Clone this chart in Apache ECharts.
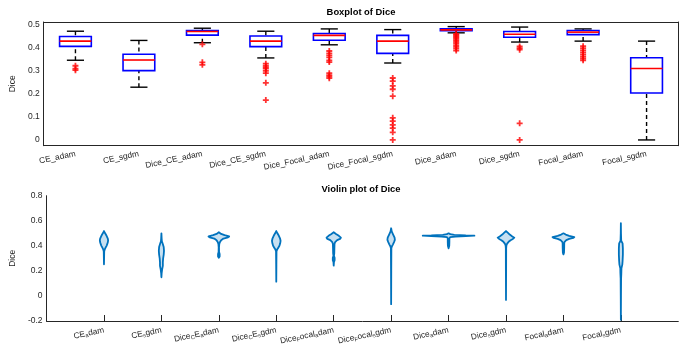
<!DOCTYPE html>
<html>
<head>
<meta charset="utf-8">
<script src="https://cdn.jsdelivr.net/npm/echarts@6/dist/echarts.min.js"></script>
<style>
  html, body { margin: 0; background: #fff; }
  #chart { width: 686px; height: 360px; }
</style>
</head>
<body>
<div id="chart"></div>
<script>
const categories = ['CE_adam', 'CE_sgdm', 'Dice_CE_adam', 'Dice_CE_sgdm', 'Dice_Focal_adam',
  'Dice_Focal_sgdm', 'Dice_adam', 'Dice_sgdm', 'Focal_adam', 'Focal_sgdm']

// [lower whisker, q1, median, q3, upper whisker]
const boxStats = [
  [0.346, 0.406, 0.429, 0.449, 0.472],
  [0.229, 0.301, 0.347, 0.372, 0.432],
  [0.422, 0.455, 0.471, 0.475, 0.485],
  [0.356, 0.405, 0.429, 0.451, 0.472],
  [0.413, 0.433, 0.454, 0.462, 0.482],
  [0.334, 0.376, 0.429, 0.454, 0.479],
  [0.465, 0.474, 0.478, 0.482, 0.492],
  [0.425, 0.446, 0.459, 0.471, 0.490],
  [0.429, 0.457, 0.468, 0.475, 0.482],
  [0.000, 0.204, 0.310, 0.357, 0.429],
]

const outliers = [
  [0.322, 0.310, 0.303],
  [],
  [0.415, 0.337, 0.326],
  [0.331, 0.322, 0.315, 0.310, 0.300, 0.290, 0.248, 0.173],
  [0.386, 0.376, 0.367, 0.358, 0.345, 0.338, 0.290, 0.281, 0.275, 0.268],
  [0.269, 0.255, 0.235, 0.220, 0.190, 0.096, 0.082, 0.065, 0.051, 0.033, 0.0],
  [0.460, 0.455, 0.450, 0.445, 0.440, 0.433, 0.427, 0.420, 0.412, 0.404, 0.396, 0.388],
  [0.406, 0.399, 0.392, 0.072, 0.0],
  [0.407, 0.398, 0.389, 0.380, 0.371, 0.362, 0.354, 0.346],
  [],
]

const boxTicks = [0, 0.1, 0.2, 0.3, 0.4, 0.5]
const violinTicks = [-0.2, 0, 0.2, 0.4, 0.6, 0.8]

// violin outlines: [value, half width as a fraction of one category slot]
const violinProfiles = [
  [[0.518, 0], [0.50, 0.02], [0.48, 0.045], [0.46, 0.065], [0.445, 0.072], [0.43, 0.068], [0.415, 0.058],
    [0.40, 0.045], [0.385, 0.028], [0.37, 0.012], [0.355, 0.004], [0.30, 0.002], [0.253, 0]],
  [[0.50, 0], [0.46, 0.004], [0.435, 0.008], [0.42, 0.02], [0.39, 0.04], [0.36, 0.045], [0.33, 0.04],
    [0.30, 0.03], [0.27, 0.025], [0.24, 0.025], [0.21, 0.012], [0.18, 0.004], [0.149, 0]],
  [[0.508, 0], [0.495, 0.04], [0.485, 0.10], [0.475, 0.18], [0.468, 0.16], [0.458, 0.08], [0.445, 0.04],
    [0.43, 0.02], [0.415, 0.008], [0.39, 0.003], [0.35, 0.004], [0.335, 0.014], [0.315, 0.014], [0.305, 0]],
  [[0.518, 0], [0.50, 0.02], [0.48, 0.045], [0.46, 0.065], [0.44, 0.075], [0.42, 0.068], [0.40, 0.055],
    [0.385, 0.035], [0.37, 0.015], [0.355, 0.004], [0.25, 0.002], [0.114, 0]],
  [[0.508, 0], [0.495, 0.04], [0.48, 0.09], [0.465, 0.125], [0.455, 0.11], [0.445, 0.06], [0.43, 0.025],
    [0.415, 0.014], [0.38, 0.012], [0.34, 0.01], [0.32, 0.004], [0.305, 0.016], [0.285, 0.016], [0.27, 0.004], [0.242, 0]],
  [[0.54, 0], [0.515, 0.01], [0.49, 0.035], [0.465, 0.06], [0.448, 0.065], [0.43, 0.05], [0.41, 0.03],
    [0.395, 0.012], [0.38, 0.004], [0.2, 0.002], [-0.066, 0]],
  [[0.50, 0], [0.493, 0.03], [0.488, 0.10], [0.483, 0.30], [0.481, 0.45], [0.478, 0.30], [0.474, 0.12],
    [0.469, 0.03], [0.46, 0.014], [0.43, 0.014], [0.40, 0.012], [0.38, 0]],
  [[0.518, 0], [0.505, 0.03], [0.49, 0.065], [0.475, 0.11], [0.465, 0.145], [0.455, 0.12], [0.445, 0.08],
    [0.432, 0.045], [0.418, 0.02], [0.40, 0.006], [0.38, 0.003], [0.2, 0.002], [-0.032, 0]],
  [[0.50, 0], [0.49, 0.04], [0.48, 0.10], [0.47, 0.19], [0.463, 0.17], [0.455, 0.10], [0.445, 0.05],
    [0.432, 0.02], [0.42, 0.014], [0.38, 0.013], [0.345, 0.01], [0.332, 0]],
  [[0.58, 0], [0.50, 0.002], [0.44, 0.006], [0.42, 0.03], [0.38, 0.035], [0.33, 0.035], [0.28, 0.03],
    [0.25, 0.025], [0.22, 0.01], [0.18, 0.008], [0.14, 0.004], [0, 0.002], [-0.19, 0]],
]

const axisColor = '#262626'
const font = 'Liberation Sans'

function tickLabel(list) {
  return (v) => {
    const hit = list.find((t) => Math.abs(t - v) < 1e-6)
    return hit === undefined ? '' : String(hit)
  }
}

// MATLAB TeX interpreter: "_x" puts x in subscript
function texLabel(name) {
  return name.replace(/_(.)/g, '{s|$1}')
}

const chart = echarts.init(document.getElementById('chart'))

const tickStyle = { inside: true, length: 6, lineStyle: { color: axisColor, width: 1 } }
const lineStyle = { show: true, onZero: false, lineStyle: { color: axisColor, width: 1 } }

const option = {
  animation: false,
  textStyle: { fontFamily: font },
  grid: [
    { left: 43.7, right: 7.7, top: 22, height: 123.7 },
    { left: 43.7, right: 7.7, top: 195.7, height: 125.3 },
  ],
  graphic: [
    { type: 'text', x: 361, y: 12, style: { text: 'Boxplot of Dice', font: 'bold 9.4px "Liberation Sans"', fill: '#000', align: 'center', verticalAlign: 'middle' } },
    { type: 'text', x: 361, y: 189, style: { text: 'Violin plot of Dice', font: 'bold 9.4px "Liberation Sans"', fill: '#000', align: 'center', verticalAlign: 'middle' } },
  ],
  xAxis: [
    {
      gridIndex: 0, type: 'category', data: categories, boundaryGap: true,
      axisLine: lineStyle, axisTick: { ...tickStyle, alignWithLabel: true },
      axisLabel: { interval: 0, rotate: 12, margin: 8, fontSize: 8.3, color: axisColor },
    },
    {
      gridIndex: 0, type: 'category', data: categories, boundaryGap: true, position: 'top',
      axisLine: lineStyle, axisTick: { ...tickStyle, alignWithLabel: true }, axisLabel: { show: false },
    },
    {
      gridIndex: 1, type: 'category', data: ['', ...categories, ''], boundaryGap: false,
      axisLine: lineStyle,
      axisTick: { ...tickStyle, interval: (i) => i >= 1 && i <= categories.length },
      axisLabel: {
        interval: 0, rotate: 12, margin: 9, fontSize: 8.3, color: axisColor, lineHeight: 10,
        formatter: (v) => texLabel(v),
        rich: { s: { fontSize: 5.8, color: axisColor, verticalAlign: 'bottom', lineHeight: 4 } },
      },
    },
  ],
  yAxis: [
    {
      gridIndex: 0, type: 'value', min: -0.025, max: 0.512, splitNumber: 5,
      name: 'Dice', nameLocation: 'middle', nameGap: 19, nameTextStyle: { fontSize: 8.5, color: axisColor },
      axisLine: lineStyle, axisTick: tickStyle, splitLine: { show: false },
      axisLabel: { fontSize: 8.5, color: axisColor, margin: 4, formatter: tickLabel(boxTicks) },
    },
    {
      gridIndex: 0, type: 'value', min: -0.025, max: 0.512, splitNumber: 5, position: 'right',
      axisLine: lineStyle, axisTick: tickStyle, splitLine: { show: false }, axisLabel: { show: false },
    },
    {
      gridIndex: 1, type: 'value', min: -0.2, max: 0.8, interval: 0.2,
      name: 'Dice', nameLocation: 'middle', nameGap: 21, nameTextStyle: { fontSize: 8.5, color: axisColor },
      axisLine: lineStyle, axisTick: tickStyle, splitLine: { show: false },
      axisLabel: { fontSize: 8.5, color: axisColor, margin: 4, formatter: tickLabel(violinTicks) },
    },
  ],
  series: [
    {
      type: 'custom',
      xAxisIndex: 0,
      yAxisIndex: 0,
      data: boxStats.map((s, i) => [i, ...s]),
      encode: { x: 0, y: [1, 2, 3, 4, 5] },
      renderItem: (params, api) => {
        const i = api.value(0)
        const pt = (k) => api.coord([i, api.value(k)])
        const lo = pt(1), q1 = pt(2), md = pt(3), q3 = pt(4), hi = pt(5)
        const slot = api.size([1, 0])[0]
        const bw = slot * 0.5
        const cw = slot * 0.27
        const x = md[0]
        const dash = { stroke: '#000', lineWidth: 1.4, lineDash: [4, 3] }
        const cap = { stroke: '#000', lineWidth: 1.4 }
        return {
          type: 'group',
          children: [
            { type: 'line', shape: { x1: x, y1: hi[1], x2: x, y2: q3[1] }, style: dash },
            { type: 'line', shape: { x1: x, y1: lo[1], x2: x, y2: q1[1] }, style: dash },
            { type: 'line', shape: { x1: x - cw / 2, y1: hi[1], x2: x + cw / 2, y2: hi[1] }, style: cap },
            { type: 'line', shape: { x1: x - cw / 2, y1: lo[1], x2: x + cw / 2, y2: lo[1] }, style: cap },
            { type: 'rect', shape: { x: x - bw / 2, y: q3[1], width: bw, height: q1[1] - q3[1] },
              style: { fill: 'none', stroke: '#0000ff', lineWidth: 1.6 } },
            { type: 'line', shape: { x1: x - bw / 2, y1: md[1], x2: x + bw / 2, y2: md[1] },
              style: { stroke: '#ff0000', lineWidth: 1.6 } },
          ],
        }
      },
    },
    {
      type: 'scatter',
      xAxisIndex: 0,
      yAxisIndex: 0,
      symbol: 'path://M3.5,0H6.5V3.5H10V6.5H6.5V10H3.5V6.5H0V3.5H3.5Z',
      symbolSize: 6,
      itemStyle: { color: '#ff0000' },
      data: outliers.flatMap((list, i) => list.map((v) => [i, v])),
    },
    {
      type: 'custom',
      xAxisIndex: 2,
      yAxisIndex: 2,
      data: violinProfiles.map((p, i) => [i + 1, p[0][0], p[p.length - 1][0]]),
      encode: { x: 0, y: [1, 2] },
      renderItem: (params, api) => {
        const idx = api.value(0)
        const prof = violinProfiles[params.dataIndex]
        const slot = api.size([1, 0])[0]
        const right = prof.map(([v, w]) => {
          const p = api.coord([idx, v])
          return [p[0] + w * slot, p[1]]
        })
        const left = prof.slice().reverse().map(([v, w]) => {
          const p = api.coord([idx, v])
          return [p[0] - w * slot, p[1]]
        })
        return {
          type: 'polygon',
          shape: { points: right.concat(left) },
          style: { fill: 'rgba(0,114,189,0.22)', stroke: '#0072BD', lineWidth: 1.8, lineJoin: 'round' },
        }
      },
    },
  ],
}

chart.setOption(option)
window.addEventListener('resize', () => chart.resize())
</script>
</body>
</html>
